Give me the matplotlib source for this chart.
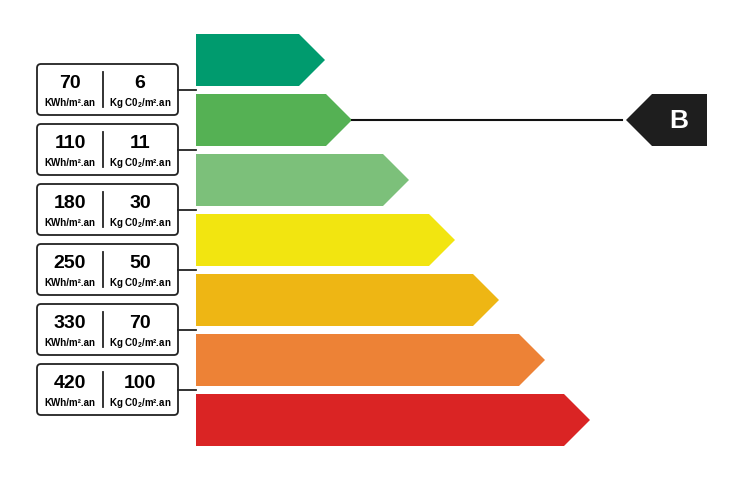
import matplotlib
matplotlib.use("Agg")
import matplotlib.pyplot as plt
from matplotlib.patches import Polygon, FancyBboxPatch

plt.rcParams['font.family'] = ['Liberation Sans', 'DejaVu Sans']
plt.rcParams['mathtext.fontset'] = 'custom'
plt.rcParams['mathtext.rm'] = 'Liberation Sans:bold'

classes = ['A', 'B', 'C', 'D', 'E', 'F', 'G']
colors = ['#009b6e', '#55b154', '#7cc07a', '#f2e510', '#eeb614', '#ed8236', '#da2424']
bar_ends = [325, 352, 409, 455, 499, 545, 590]
kwh = [70, 110, 180, 250, 330, 420]
co2 = [6, 11, 30, 50, 70, 100]
rating = 'B'

fig = plt.figure(figsize=(7.41, 4.80), dpi=100)
ax = fig.add_axes([0, 0, 1, 1])
ax.set_xlim(0, 741); ax.set_ylim(480, 0); ax.axis('off')

x0, h, pitch, top0, tip = 196, 52, 60, 34, 26
for i, (c, xe) in enumerate(zip(colors, bar_ends)):
    t = top0 + i * pitch
    ax.add_patch(Polygon([(x0, t), (xe - tip, t), (xe, t + h / 2), (xe - tip, t + h), (x0, t + h)],
                         closed=True, fc=c, ec='none'))

for i, (k, c2) in enumerate(zip(kwh, co2)):
    t = 64 + i * pitch
    ax.add_patch(FancyBboxPatch((37, t), 141, h - 1, boxstyle='round,pad=0,rounding_size=4',
                                fc='white', ec='#222222', lw=1.3))
    ax.plot([178, 196], [t + 26, t + 26], color='#222222', lw=1.3)
    ax.plot([103, 103], [t + 8, t + 43], color='#222222', lw=1.3)
    ax.text(70, t + 19, str(k), ha='center', va='center', fontsize=14, fontweight='bold')
    ax.text(140, t + 19, str(c2), ha='center', va='center', fontsize=14, fontweight='bold')
    ax.text(70, t + 39, 'KWh/m².an', ha='center', va='center', fontsize=7, fontweight='bold')
    ax.text(140, t + 39, 'Kg C0$_2$/m².an', ha='center', va='center', fontsize=7, fontweight='bold')

ri = classes.index(rating)
ym = top0 + ri * pitch + h / 2
ax.plot([bar_ends[ri], 622], [ym, ym], color='#111111', lw=1.5)
ax.add_patch(Polygon([(626, ym), (652, ym - 26), (707, ym - 26), (707, ym + 26), (652, ym + 26)],
                     closed=True, fc='#1e1e1e', ec='none'))
ax.text(679, ym + 1, rating, ha='center', va='center', fontsize=19, fontweight='bold', color='white')

fig.savefig('out.png', dpi=100)
